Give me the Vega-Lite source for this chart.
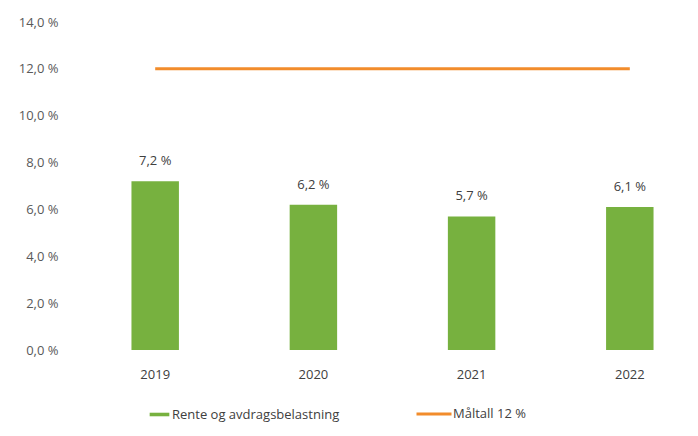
{
  "$schema": "https://vega.github.io/schema/vega-lite/v6.json",
  "autosize": "none",
  "width": 617,
  "height": 328,
  "padding": {"left": 84, "top": 22, "right": 0, "bottom": 86},
  "background": "white",
  "config": {
    "view": {"stroke": null},
    "font": "Open Sans"
  },
  "datasets": {
    "bars": [
      {"year": "2019", "value": 7.2, "label": "7,2 %", "series": "Rente og avdragsbelastning"},
      {"year": "2020", "value": 6.2, "label": "6,2 %", "series": "Rente og avdragsbelastning"},
      {"year": "2021", "value": 5.7, "label": "5,7 %", "series": "Rente og avdragsbelastning"},
      {"year": "2022", "value": 6.1, "label": "6,1 %", "series": "Rente og avdragsbelastning"}
    ],
    "target": [
      {"year": "2019", "value": 12, "series": "Måltall 12 %"},
      {"year": "2020", "value": 12, "series": "Måltall 12 %"},
      {"year": "2021", "value": 12, "series": "Måltall 12 %"},
      {"year": "2022", "value": 12, "series": "Måltall 12 %"}
    ]
  },
  "encoding": {
    "x": {
      "field": "year", "type": "nominal",
      "scale": {"paddingInner": 0.7, "paddingOuter": 0.3},
      "axis": {"title": null, "labelAngle": 0, "domain": false, "ticks": false, "labelPadding": 18, "labelFontSize": 13, "labelColor": "#404040"}
    }
  },
  "layer": [
    {
      "data": {"name": "bars"},
      "mark": {"type": "bar", "fill": "#77b13f"},
      "encoding": {
        "y": {
          "field": "value", "type": "quantitative",
          "scale": {"domain": [0, 14]},
          "axis": {
            "title": null, "values": [0, 2, 4, 6, 8, 10, 12, 14],
            "labelExpr": "replace(format(datum.value, '.1f'), '.', ',') + ' %'",
            "domain": false, "ticks": false, "grid": false,
            "labelPadding": 26, "labelFontSize": 13, "labelColor": "#595959"
          }
        },
        "fill": {
          "field": "series", "type": "nominal",
          "scale": {"range": ["#77b13f"]},
          "legend": {
            "title": null, "orient": "none", "legendX": 69, "legendY": 386,
            "symbolType": "M-2.2,-0.4H2.2V0.4H-2.2Z", "symbolSize": 80, "symbolStrokeWidth": 0,
            "labelFontSize": 13, "labelColor": "#404040", "labelOffset": 6, "labelLimit": 400
          }
        }
      }
    },
    {
      "data": {"name": "bars"},
      "mark": {"type": "text", "dy": -20, "fontSize": 13, "color": "#404040"},
      "encoding": {
        "y": {"field": "value", "type": "quantitative"},
        "text": {"field": "label"}
      }
    },
    {
      "data": {"name": "target"},
      "mark": {"type": "line", "strokeWidth": 3},
      "encoding": {
        "y": {"field": "value", "type": "quantitative"},
        "stroke": {
          "field": "series", "type": "nominal",
          "scale": {"range": ["#f28c2b"]},
          "legend": {
            "title": null, "orient": "none", "legendX": 331, "legendY": 373,
            "symbolType": "stroke", "symbolSize": 1225, "symbolStrokeWidth": 3,
            "labelFontSize": 13, "labelColor": "#404040", "labelOffset": 0, "labelLimit": 400
          }
        }
      }
    }
  ]
}
